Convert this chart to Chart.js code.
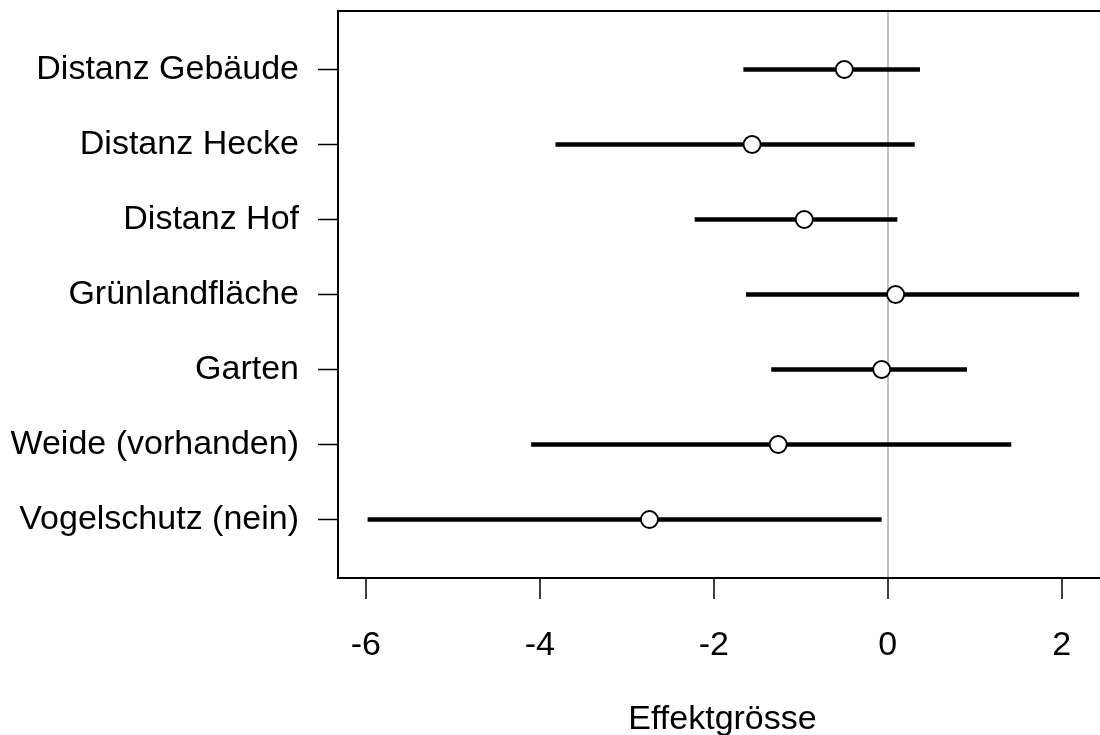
<!DOCTYPE html>
<html>
<head>
<meta charset="utf-8">
<script src="https://cdn.jsdelivr.net/npm/chart.js@4"></script>
<style>
  html, body { margin: 0; padding: 0; background: #fff; overflow: hidden; }
  #chart { display: block; }
</style>
</head>
<body>
<canvas id="chart" width="1120" height="735"></canvas>
<script>
// rows, top to bottom
const categories = ['Distanz Gebäude', 'Distanz Hecke', 'Distanz Hof', 'Grünlandfläche', 'Garten', 'Weide (vorhanden)', 'Vogelschutz (nein)'];
const estimates = [-0.50, -1.56, -0.96, 0.09, -0.07, -1.26, -2.74];
const lowerCI = [-1.66, -3.82, -2.22, -1.63, -1.34, -4.10, -5.98];
const upperCI = [0.37, 0.31, 0.11, 2.20, 0.91, 1.42, -0.07];
const xTicks = [-6, -4, -2, 0, 2];
const xTitle = 'Effektgrösse';

const n = categories.length;
const font = { family: '"Liberation Sans", Arial, sans-serif', size: 34 };

const pointData = estimates.map((v, i) => ({ x: v, y: n - i }));

const datasets = [{
    type: 'scatter',
    data: pointData,
    pointRadius: 8.5,
    pointBackgroundColor: '#fff',
    pointBorderColor: '#000',
    pointBorderWidth: 1.8
}];

categories.forEach((c, i) => {
    datasets.push({
        type: 'line',
        data: [{ x: lowerCI[i], y: n - i }, { x: upperCI[i], y: n - i }],
        borderColor: '#000',
        borderWidth: 4.5,
        borderCapStyle: 'butt',
        pointRadius: 0
    });
});

const boxPlugin = {
    id: 'box',
    afterDraw(chart) {
        const a = chart.chartArea;
        const ctx = chart.ctx;
        ctx.save();
        ctx.strokeStyle = '#000';
        ctx.lineWidth = 2;
        ctx.beginPath();
        ctx.moveTo(a.right + 5, a.top);
        ctx.lineTo(a.left, a.top);
        ctx.lineTo(a.left, a.bottom);
        ctx.lineTo(a.right + 5, a.bottom);
        ctx.stroke();
        ctx.restore();
    }
};

new Chart(document.getElementById('chart'), {
    type: 'scatter',
    data: { datasets: datasets },
    plugins: [boxPlugin],
    options: {
        responsive: false,
        animation: false,
        layout: { autoPadding: false, padding: { left: 0, top: 11, right: 13, bottom: 0 } },
        plugins: { legend: { display: false }, tooltip: { enabled: false } },
        scales: {
            x: {
                type: 'linear',
                min: -6.32,
                max: 2.52,
                afterBuildTicks: s => { s.ticks = xTicks.map(v => ({ value: v })); },
                afterFit: s => { s.height = 157; s.paddingLeft = 0; s.paddingRight = 0; },
                border: { display: false },
                grid: {
                    drawOnChartArea: true,
                    color: c => (c.tick && c.tick.value === 0) ? '#c0c0c0' : 'rgba(0,0,0,0)',
                    lineWidth: 2,
                    tickColor: '#000',
                    tickWidth: 1.5,
                    tickLength: 21
                },
                ticks: { color: '#000', font: font, padding: 26, maxRotation: 0 },
                title: { display: true, text: xTitle, color: '#000', font: font, padding: { top: 0, bottom: -5 } }
            },
            y: {
                type: 'linear',
                min: 0.22,
                max: 7.78,
                afterBuildTicks: s => { s.ticks = categories.map((c, i) => ({ value: n - i })); },
                afterFit: s => { s.width = 338; s.paddingTop = 0; s.paddingBottom = 0; },
                border: { display: false },
                grid: {
                    drawOnChartArea: false,
                    tickColor: '#000',
                    tickWidth: 1.5,
                    tickLength: 20
                },
                ticks: {
                    color: '#000',
                    font: font,
                    padding: 19,
                    callback: v => categories[n - v]
                }
            }
        }
    }
});
</script>
</body>
</html>
